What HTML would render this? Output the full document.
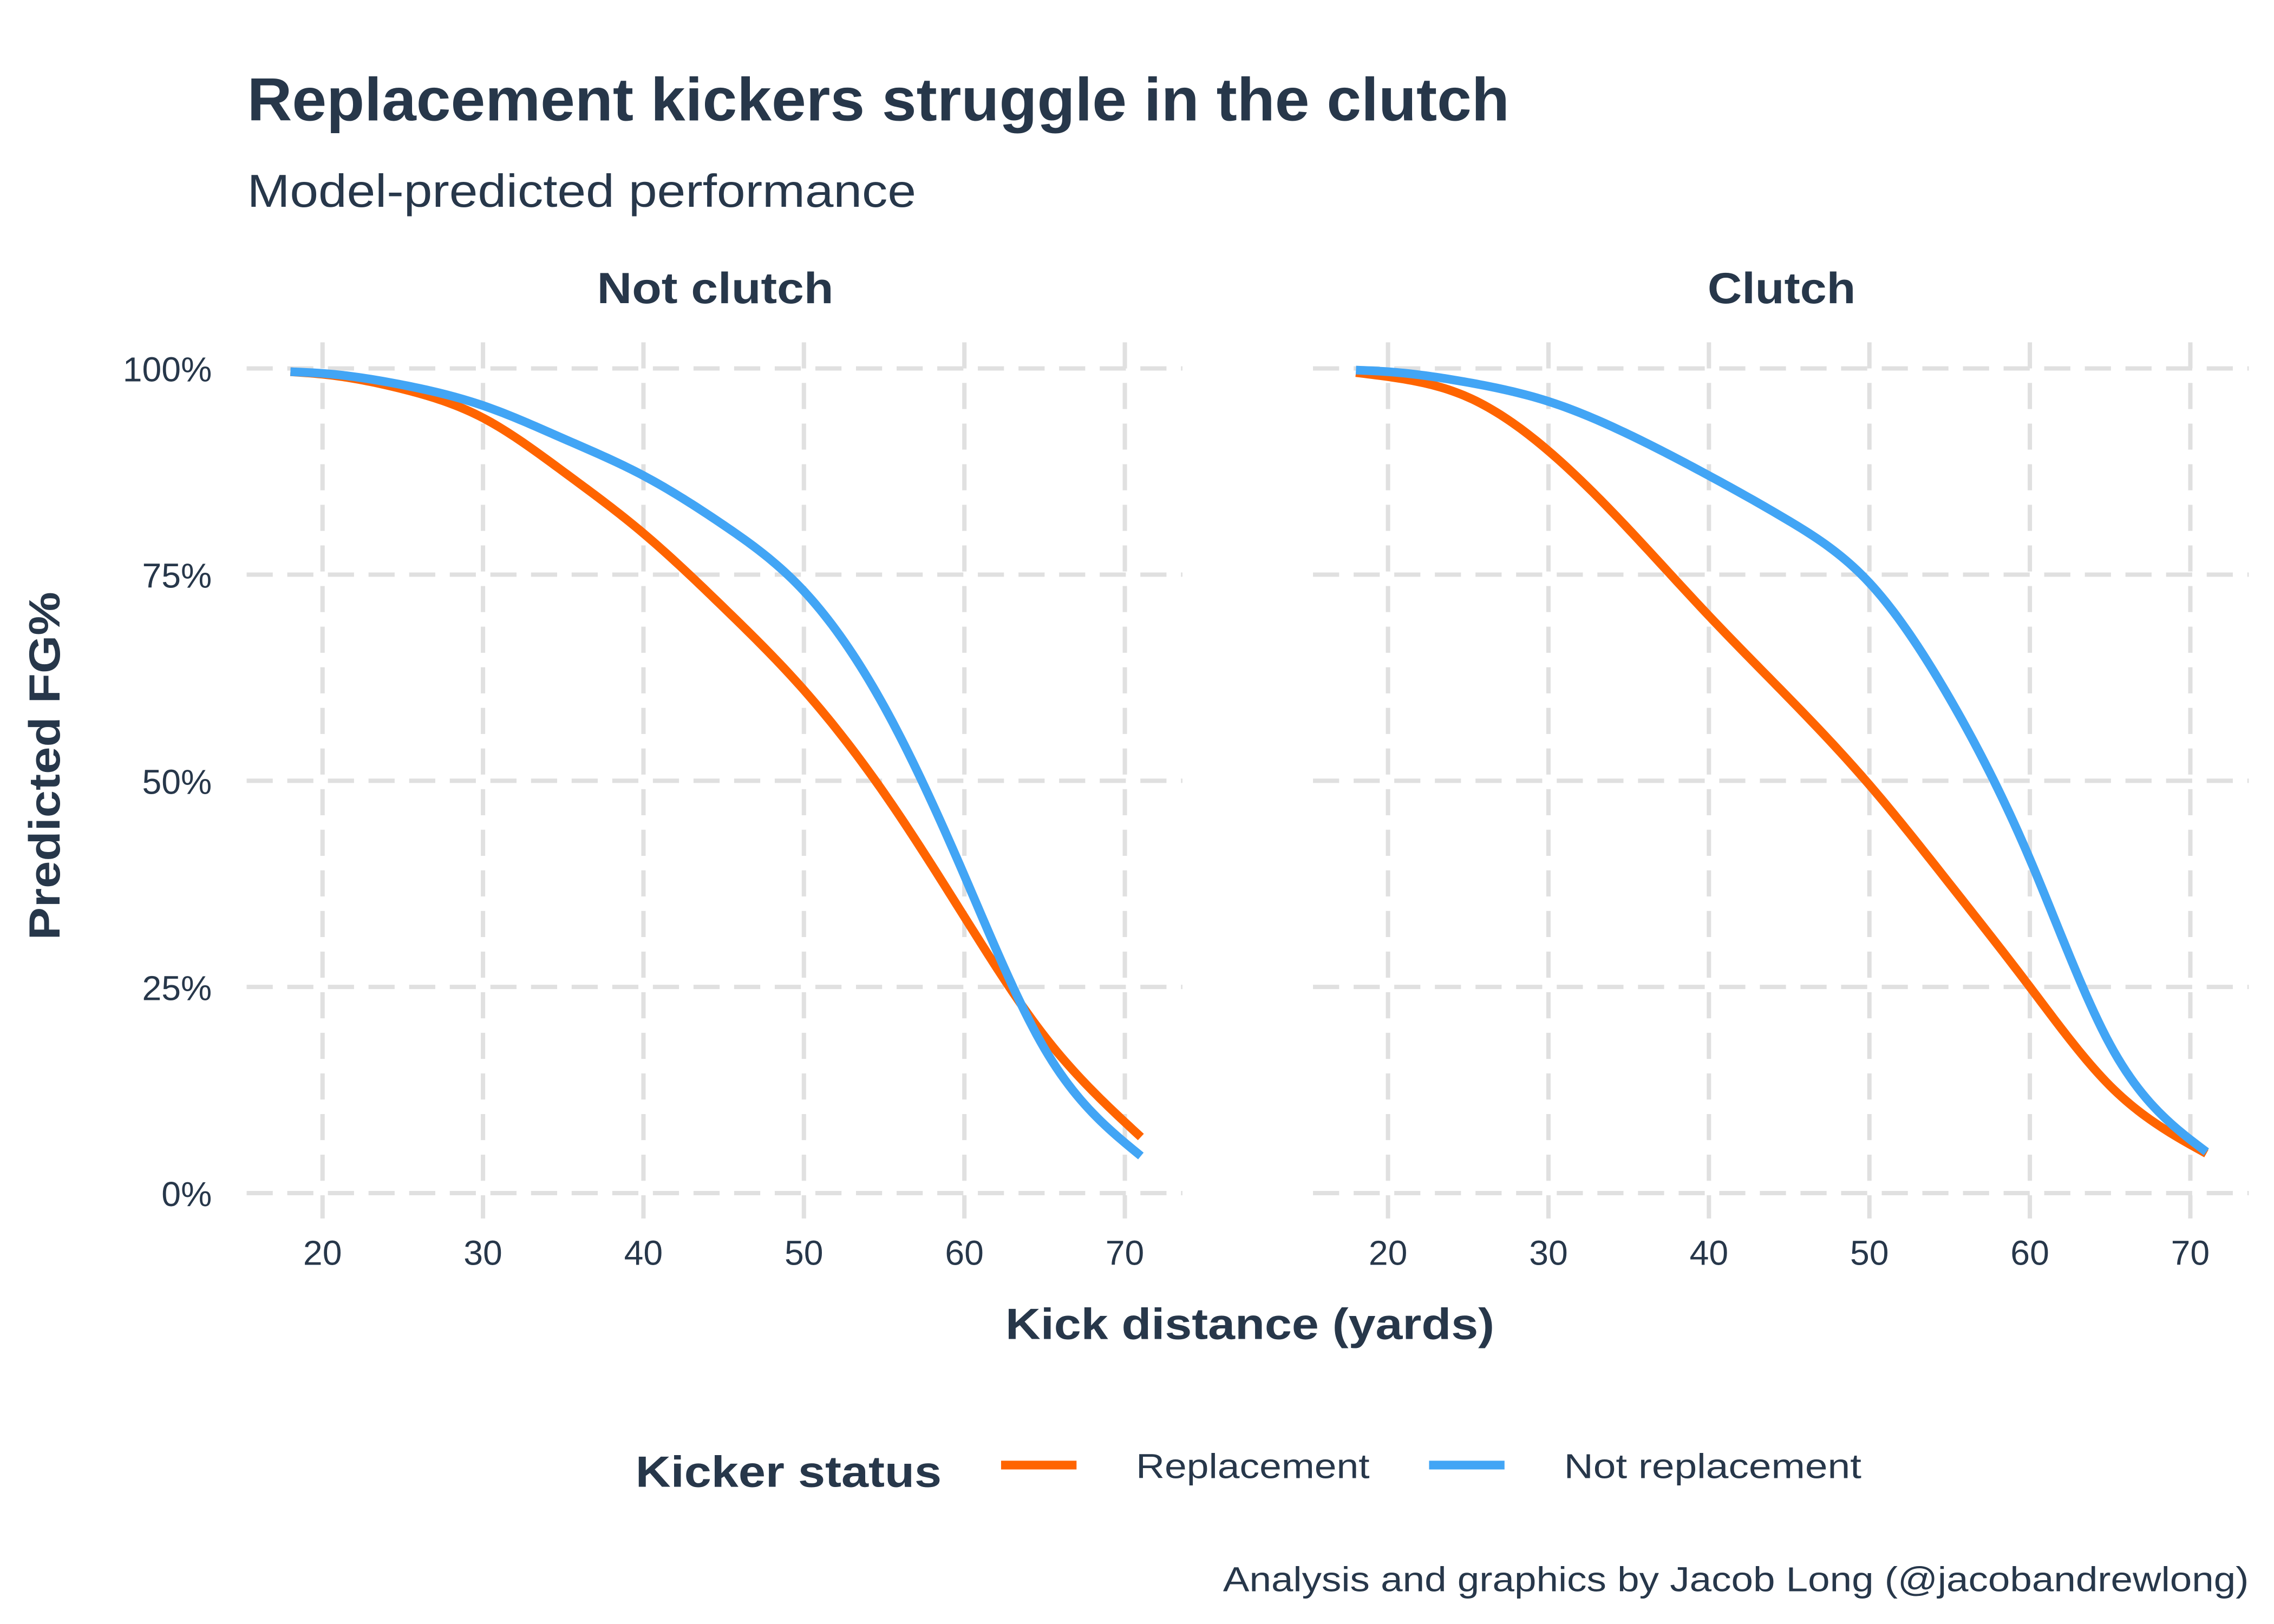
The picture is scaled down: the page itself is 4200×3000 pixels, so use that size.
<!DOCTYPE html>
<html><head><meta charset="utf-8"><style>
html,body{margin:0;padding:0;background:#fff;}
svg{display:block;font-family:"Liberation Sans","DejaVu Sans",sans-serif;}
</style></head><body>
<svg id="chart" width="4200" height="3000" viewBox="0 0 1560 1114.3" xmlns="http://www.w3.org/2000/svg">
<rect width="1560" height="1114.3" fill="#fff"/>
<g transform="scale(0.9953)">
<text x="170.4" y="83" font-size="42" font-weight="bold" fill="#27374a" textLength="870" lengthAdjust="spacingAndGlyphs">Replacement kickers struggle in the clutch</text>
<text x="170.4" y="142.5" font-size="32" fill="#27374a" textLength="461" lengthAdjust="spacingAndGlyphs">Model-predicted performance</text>
<g id="panels"></g>
<text x="693" y="923" font-size="30" font-weight="bold" fill="#27374a" textLength="337" lengthAdjust="spacingAndGlyphs">Kick distance (yards)</text>
<text transform="translate(41,528) rotate(-90)" font-size="30" font-weight="bold" fill="#27374a" text-anchor="middle" textLength="240" lengthAdjust="spacingAndGlyphs">Predicted FG%</text>
<g>
<text x="438" y="1025" font-size="30" font-weight="bold" fill="#27374a" textLength="211" lengthAdjust="spacingAndGlyphs">Kicker status</text>
<line x1="690" y1="1010" x2="742" y2="1010" stroke="#ff6400" stroke-width="6"/>
<text x="783" y="1019" font-size="24" fill="#27374a" textLength="161" lengthAdjust="spacingAndGlyphs">Replacement</text>
<line x1="985" y1="1010" x2="1037" y2="1010" stroke="#42a5f5" stroke-width="6"/>
<text x="1078" y="1019" font-size="24" fill="#27374a" textLength="205" lengthAdjust="spacingAndGlyphs">Not replacement</text>
</g>
<text x="843" y="1097" font-size="24" fill="#27374a" textLength="707" lengthAdjust="spacingAndGlyphs">Analysis and graphics by Jacob Long (@jacobandrewlong)</text>
</g>
</svg>
<script>
const distances = [18, 20, 25, 30, 35, 40, 45, 50, 55, 60, 65, 71];
const notClutchReplacement = [99.6, 99.3, 97.5, 94, 87.5, 80, 71, 61, 48.5, 33.5, 19, 6.8];
const notClutchNotReplacement = [99.6, 99.4, 98, 95.5, 91.5, 87, 81, 73, 59, 38.5, 17.5, 4.5];
const clutchReplacement = [99.5, 99, 96.5, 90, 80.5, 70, 60, 49.5, 37.5, 25, 13, 4.8];
const clutchNotReplacement = [99.8, 99.6, 98.3, 96, 92, 87, 81.5, 74, 60, 40.5, 18, 5];
const xTicks = [20, 30, 40, 50, 60, 70];
const yTicks = [0, 25, 50, 75, 100];
const yTickLabels = ["0%", "25%", "50%", "75%", "100%"];
const panelTitles = ["Not clutch", "Clutch"];
const panelTitleWidths = [163, 102];

const NS = "http://www.w3.org/2000/svg";
const panelsG = document.getElementById("panels");
function mk(tag, attrs, parent) {
  const el = document.createElementNS(NS, tag);
  for (const k in attrs) el.setAttribute(k, attrs[k]);
  parent.appendChild(el);
  return el;
}
const yScale = v => 822.5 - 568.5 * v / 100;
const panels = [
  {x0: 222.3, gx1: 170, gx2: 815, cx: 493, series: [notClutchReplacement, notClutchNotReplacement]},
  {x0: 956.7, gx1: 905, gx2: 1550, cx: 1228, series: [clutchReplacement, clutchNotReplacement]}
];
const colors = ["#ff6400", "#42a5f5"];
const seriesNames = ["replacement", "not-replacement"];
function spline(xs, ys) {
  const n = xs.length, h = [], a = [], l = [1], mu = [0], z = [0], c = new Array(n).fill(0), b = [], d = [];
  for (let i = 0; i < n - 1; i++) h[i] = xs[i + 1] - xs[i];
  for (let i = 1; i < n - 1; i++) a[i] = 3 / h[i] * (ys[i + 1] - ys[i]) - 3 / h[i - 1] * (ys[i] - ys[i - 1]);
  for (let i = 1; i < n - 1; i++) {
    l[i] = 2 * (xs[i + 1] - xs[i - 1]) - h[i - 1] * mu[i - 1];
    mu[i] = h[i] / l[i];
    z[i] = (a[i] - h[i - 1] * z[i - 1]) / l[i];
  }
  for (let j = n - 2; j >= 0; j--) {
    c[j] = (j === 0 ? 0 : z[j]) - mu[j] * c[j + 1];
    b[j] = (ys[j + 1] - ys[j]) / h[j] - h[j] * (c[j + 1] + 2 * c[j]) / 3;
    d[j] = (c[j + 1] - c[j]) / (3 * h[j]);
  }
  return x => {
    let i = 0;
    while (i < n - 2 && x > xs[i + 1]) i++;
    const dx = x - xs[i];
    return ys[i] + b[i] * dx + c[i] * dx * dx + d[i] * dx * dx * dx;
  };
}
panels.forEach((p, pi) => {
  const xScale = d => p.x0 + (d - 20) * 11.06;
  const g = mk("g", {}, panelsG);
  
  
  const t = mk("text", {x: p.cx, y: 209, "font-size": 30, "font-weight": "bold", fill: "#27374a", "text-anchor": "middle", textLength: panelTitleWidths[pi], lengthAdjust: "spacingAndGlyphs"}, g);
  t.textContent = panelTitles[pi];
  
  
  yTicks.forEach((v, i) => {
    const l = mk("line", {x1: p.gx1, x2: p.gx2, y1: yScale(v), y2: yScale(v), stroke: "#e0e0e0", "stroke-width": 3, "stroke-dasharray": "18,10"}, g);
    
    
    if (pi === 0) {
      const tl = mk("text", {x: 146, y: yScale(v) + 9, "font-size": 24, fill: "#27374a", "text-anchor": "end"}, g);
      tl.textContent = yTickLabels[i];
      
      
    }
  });
  xTicks.forEach(v => {
    const l = mk("line", {x1: xScale(v), x2: xScale(v), y1: 236, y2: 840, stroke: "#e0e0e0", "stroke-width": 3, "stroke-dasharray": "18,10"}, g);
    
    
    const tl = mk("text", {x: xScale(v), y: 872, "font-size": 24, fill: "#27374a", "text-anchor": "middle"}, g);
    tl.textContent = v;
    
    
  });
  p.series.forEach((vals, si) => {
    const f = spline(distances, vals);
    let d = "";
    const x0 = distances[0], x1 = distances[distances.length - 1];
    for (let x = x0; x <= x1 + 1e-9; x += 0.25) {
      d += (d ? " L" : "M") + xScale(x).toFixed(2) + "," + yScale(f(x)).toFixed(2);
    }
    const path = mk("path", {d: d, fill: "none", stroke: colors[si], "stroke-width": 6, "stroke-linejoin": "round"}, g);
    
    
  });
});
</script>
</body></html>
